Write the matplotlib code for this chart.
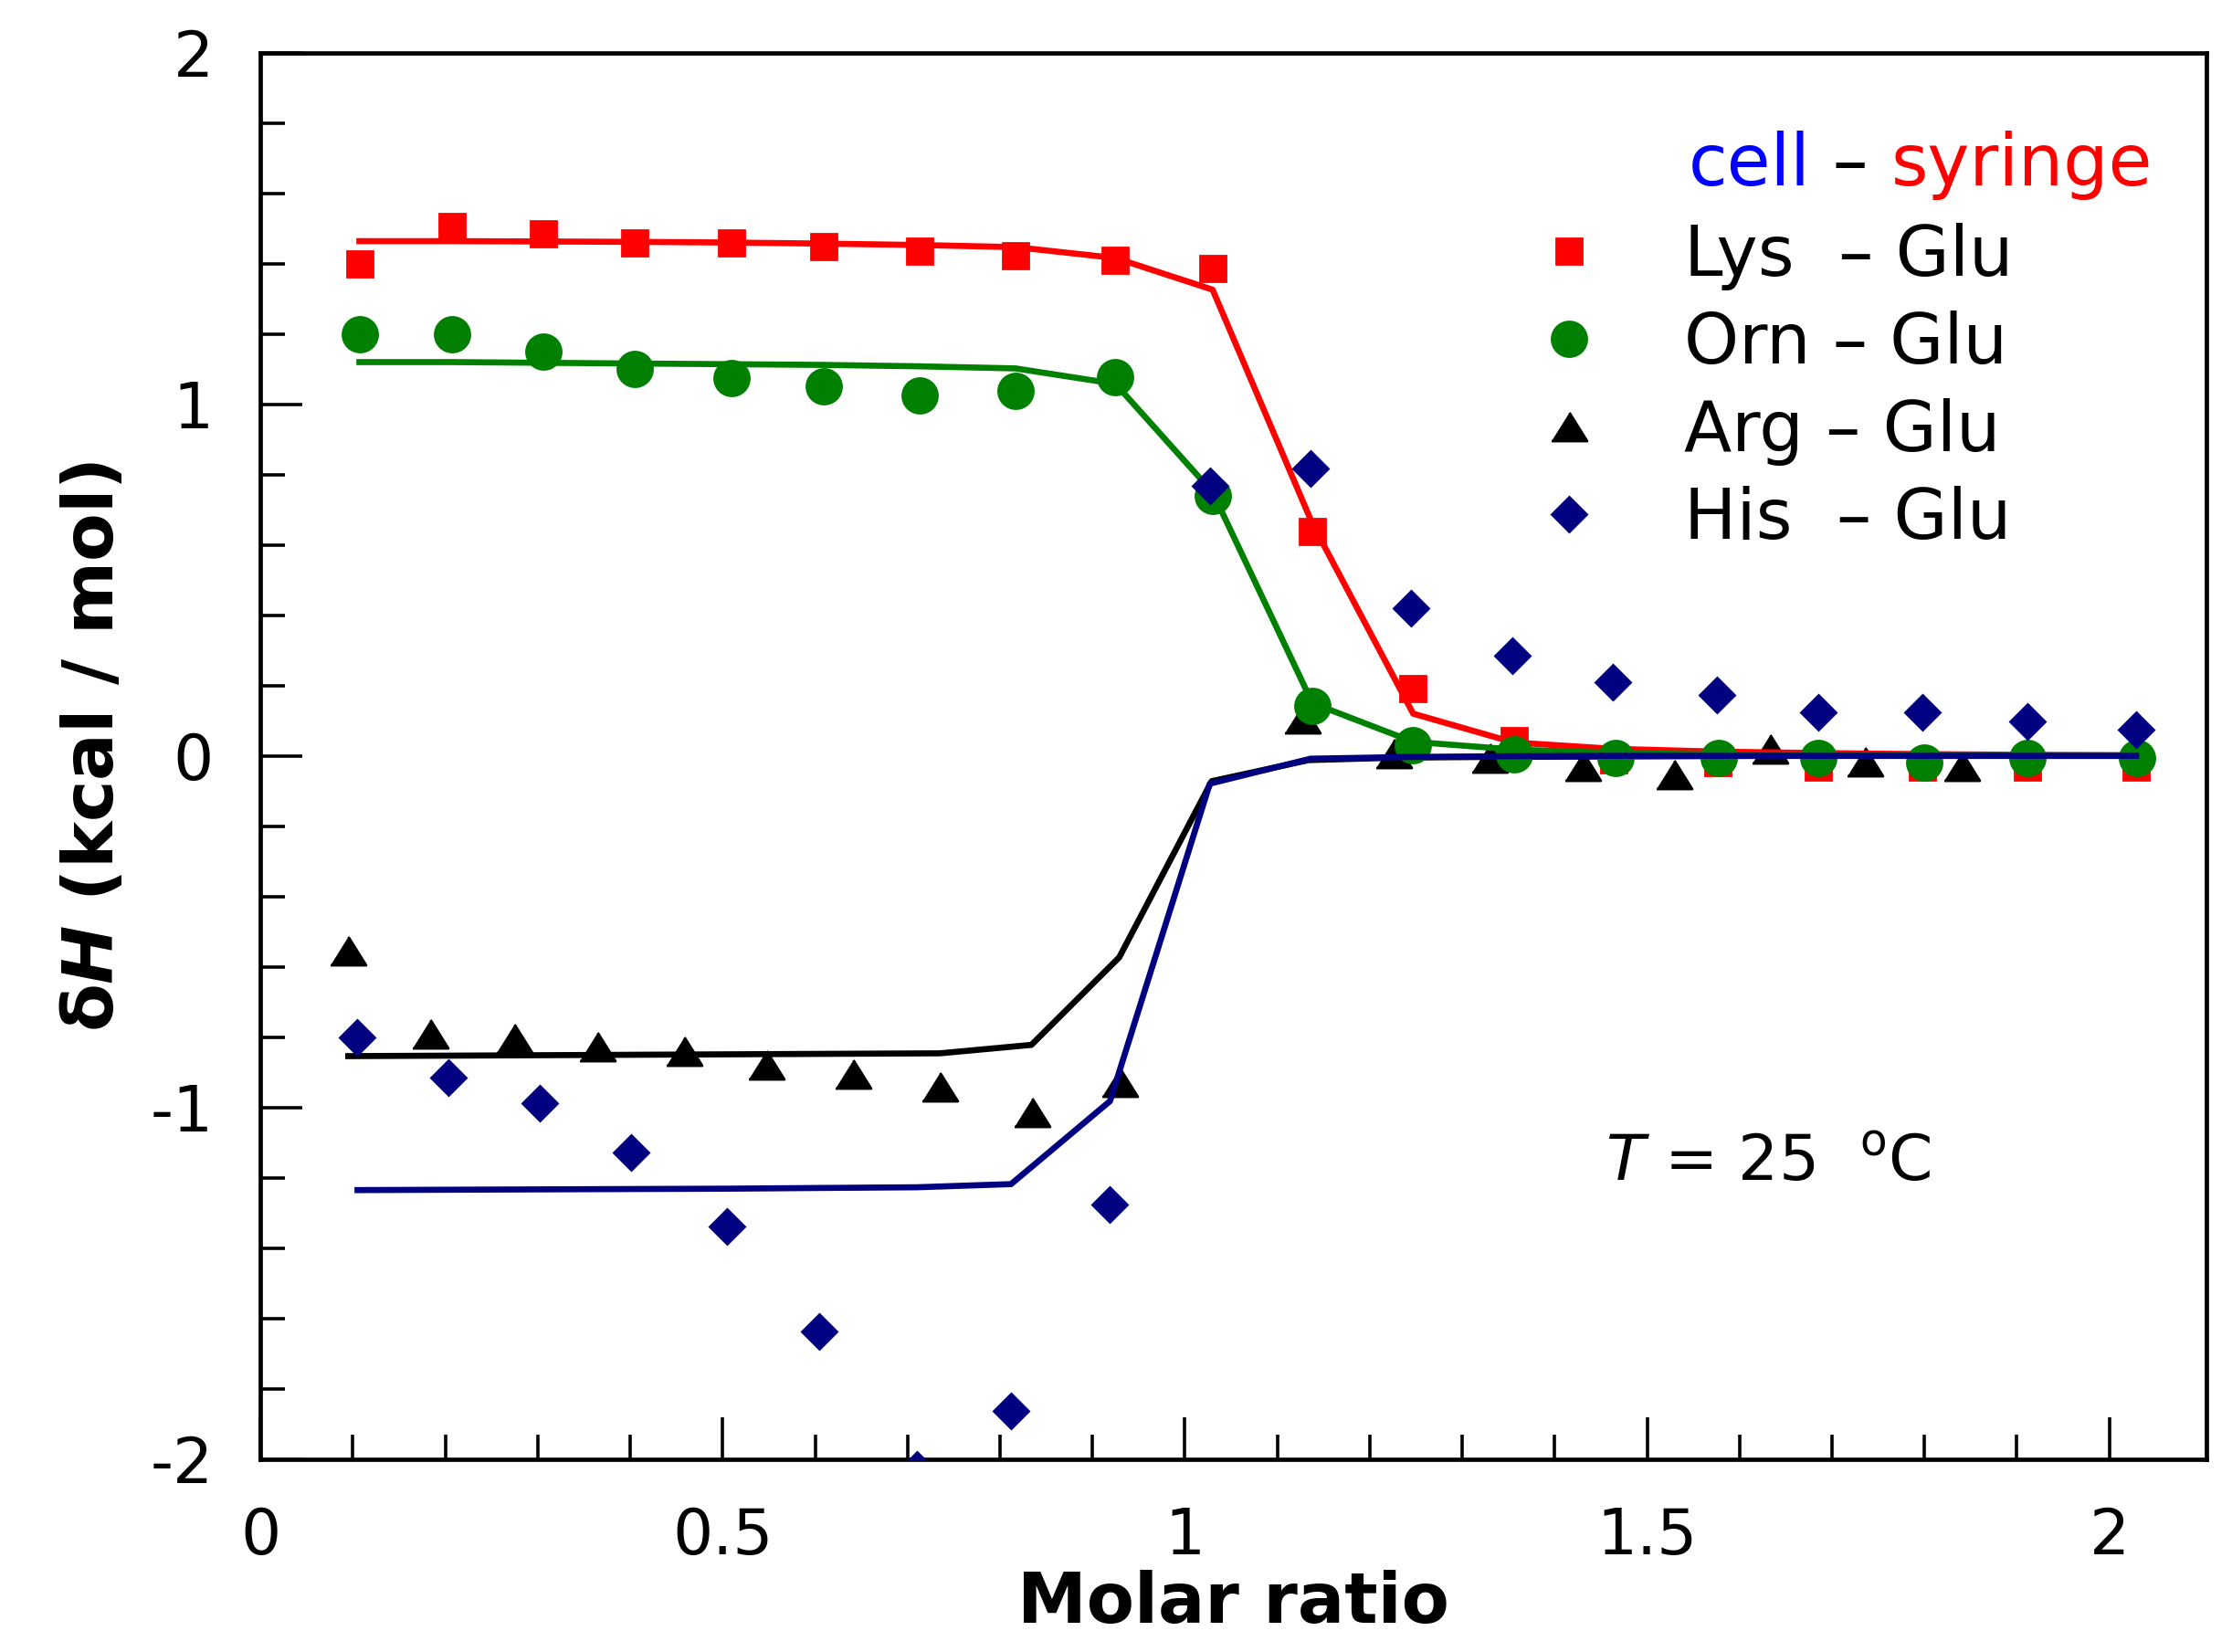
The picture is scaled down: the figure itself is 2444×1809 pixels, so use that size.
import matplotlib
matplotlib.use("Agg")
import matplotlib.pyplot as plt

plt.rcParams['font.family'] = ['DejaVu Sans']
plt.rcParams['axes.unicode_minus'] = False
plt.rcParams['mathtext.fontset'] = 'dejavusans'

# ---------------- data ----------------
lys_x = [0.107, 0.207, 0.306, 0.405, 0.510, 0.609, 0.713, 0.817, 0.925, 1.030,
         1.138, 1.247, 1.356, 1.464, 1.577, 1.685, 1.798, 1.911, 2.029]
lys_y = [1.398, 1.505, 1.485, 1.460, 1.460, 1.448, 1.435, 1.423, 1.410, 1.385,
         0.639, 0.191, 0.043, -0.010, -0.019, -0.032, -0.032, -0.032, -0.032]
lys_fit = [1.464, 1.464, 1.463, 1.462, 1.460, 1.457, 1.453, 1.447, 1.416, 1.326,
           0.660, 0.120, 0.038, 0.020, 0.012, 0.008, 0.005, 0.003, 0.002]

orn_x = [0.107, 0.207, 0.306, 0.405, 0.510, 0.609, 0.713, 0.817, 0.925, 1.030,
         1.138, 1.247, 1.356, 1.466, 1.578, 1.685, 1.800, 1.911, 2.030]
orn_y = [1.199, 1.199, 1.150, 1.100, 1.075, 1.050, 1.026, 1.037, 1.076, 0.739,
         0.143, 0.030, 0.005, -0.007, -0.007, -0.007, -0.020, -0.007, -0.007]
orn_fit = [1.120, 1.120, 1.118, 1.116, 1.114, 1.112, 1.108, 1.102, 1.058, 0.750,
           0.150, 0.040, 0.018, 0.008, 0.004, 0.002, 0.001, 0.000, 0.000]

arg_x = [0.095, 0.184, 0.274, 0.364, 0.458, 0.547, 0.641, 0.735, 0.835, 0.929,
         1.127, 1.226, 1.330, 1.430, 1.529, 1.633, 1.736, 1.840]
arg_y = [-0.554, -0.790, -0.804, -0.828, -0.840, -0.878, -0.904, -0.940, -1.015, -0.929,
         0.107, 0.008, -0.005, -0.029, -0.054, 0.021, -0.016, -0.030]
arg_fit_x = [0.095, 0.735, 0.834, 0.929, 1.029, 1.134, 1.230, 1.330, 1.430, 1.530,
             1.630, 1.740, 1.840, 2.030]
arg_fit = [-0.854, -0.846, -0.822, -0.573, -0.072, -0.012, -0.005, -0.003, -0.002, -0.001,
           0.000, 0.000, 0.000, 0.000]

his_x = [0.105, 0.203, 0.302, 0.401, 0.505, 0.604, 0.710, 0.812, 0.919, 1.027,
         1.136, 1.245, 1.354, 1.463, 1.576, 1.685, 1.798, 1.911, 2.029]
his_y = [-0.802, -0.916, -0.989, -1.128, -1.338, -1.638, -2.030, -1.863, -1.277, 0.769,
         0.817, 0.421, 0.284, 0.210, 0.173, 0.123, 0.123, 0.098, 0.074]
his_fit = [-1.235, -1.234, -1.233, -1.232, -1.231, -1.229, -1.227, -1.218, -0.982, -0.079,
           -0.008, -0.003, -0.001, 0.000, 0.000, 0.000, 0.000, 0.000, 0.000]

labels = ["Lys  \u2013 Glu", "Orn \u2013 Glu", "Arg \u2013 Glu", "His  \u2013 Glu"]
xticks = [0, 0.5, 1, 1.5, 2]
xticklabels = ["0", "0.5", "1", "1.5", "2"]
yticks = [-2, -1, 0, 1, 2]
yticklabels = ["-2", "-1", "0", "1", "2"]

# ---------------- style ----------------
RED = '#ff0000'
GREEN = '#008000'
NAVY = '#000080'
BLACK = '#000000'
LW = 2.4
tri = [(-1, -0.8), (1, -0.8), (0, 0.8)]

fig = plt.figure(figsize=(12.22, 9.045), dpi=200)
ax = fig.add_axes([0.1167, 0.1168, 0.8718, 0.8513])

# Arg
h_arg, = ax.plot(arg_x, arg_y, linestyle='none', marker=tri, markersize=14,
                 color=BLACK, zorder=2, label=labels[2])
ax.plot(arg_fit_x, arg_fit, color=BLACK, lw=LW, zorder=2.5)
# Lys
ax.plot(lys_x, lys_fit, color=RED, lw=LW, zorder=3)
h_lys, = ax.plot(lys_x, lys_y, linestyle='none', marker='s', markersize=10.4,
                 color=RED, zorder=3.5, label=labels[0])
# Orn
ax.plot(orn_x, orn_fit, color=GREEN, lw=LW, zorder=4)
h_orn, = ax.plot(orn_x, orn_y, linestyle='none', marker='o', markersize=13.7,
                 color=GREEN, zorder=4.5, label=labels[1])
# His
ax.plot(his_x, his_fit, color=NAVY, lw=LW, zorder=5)
h_his, = ax.plot(his_x, his_y, linestyle='none', marker='D', markersize=9.5,
                 color=NAVY, zorder=5.5, label=labels[3])

ax.set_xlim(0, 2.105)
ax.set_ylim(-2, 2)

ax.set_xticks(xticks)
ax.set_xticklabels(xticklabels)
ax.set_yticks(yticks)
ax.set_yticklabels(yticklabels)
ax.set_xticks([0.1 * i for i in range(1, 21) if i % 5 != 0], minor=True)
ax.set_yticks([-2 + 0.2 * i for i in range(1, 20) if i % 5 != 0], minor=True)

ax.tick_params(which='both', direction='in', top=False, right=False, width=1.3)
ax.tick_params(which='major', length=16.5, labelsize=25)
ax.tick_params(which='minor', length=9.8)
ax.tick_params(axis='x', which='major', pad=18.5)
ax.tick_params(axis='y', which='major', pad=18.5)
for sp in ax.spines.values():
    sp.set_linewidth(1.7)

ax.set_xlabel("Molar ratio", fontsize=27.4, fontweight='bold')
ax.xaxis.set_label_coords(0.5, -0.0785)
ax.set_ylabel("\u03b4" + r"$\mathbfit{H}$ (kcal / mol)",
              fontsize=27.7, fontweight='bold')
ax.yaxis.set_label_coords(-0.068, 0.507)

# legend
leg = ax.legend(handles=[h_lys, h_orn, h_arg, h_his], labels=labels,
                loc='upper left', bbox_to_anchor=(0.6545, 0.8789),
                frameon=False, fontsize=27.5, handlelength=1.0,
                handletextpad=1.144, labelspacing=0.287, borderpad=0,
                borderaxespad=0, numpoints=1)

# legend title: "cell – syringe" in two colours
t1 = ax.text(0.7337, 0.9058, "cell", transform=ax.transAxes, fontsize=28,
             color='#0000ff', ha='left', va='baseline')
t2 = ax.annotate(" \u2013 ", xycoords=t1, xy=(1, 0), fontsize=28,
                 color=BLACK, ha='left', va='bottom')
t3 = ax.annotate("syringe", xycoords=t2, xy=(1, 0), fontsize=28,
                 color=RED, ha='left', va='bottom')

ax.text(1.455, -1.208, r"$T$ = 25  $^{\mathrm{o}}$C", fontsize=25,
        ha='left', va='baseline')

fig.savefig("out.png", dpi=200)
